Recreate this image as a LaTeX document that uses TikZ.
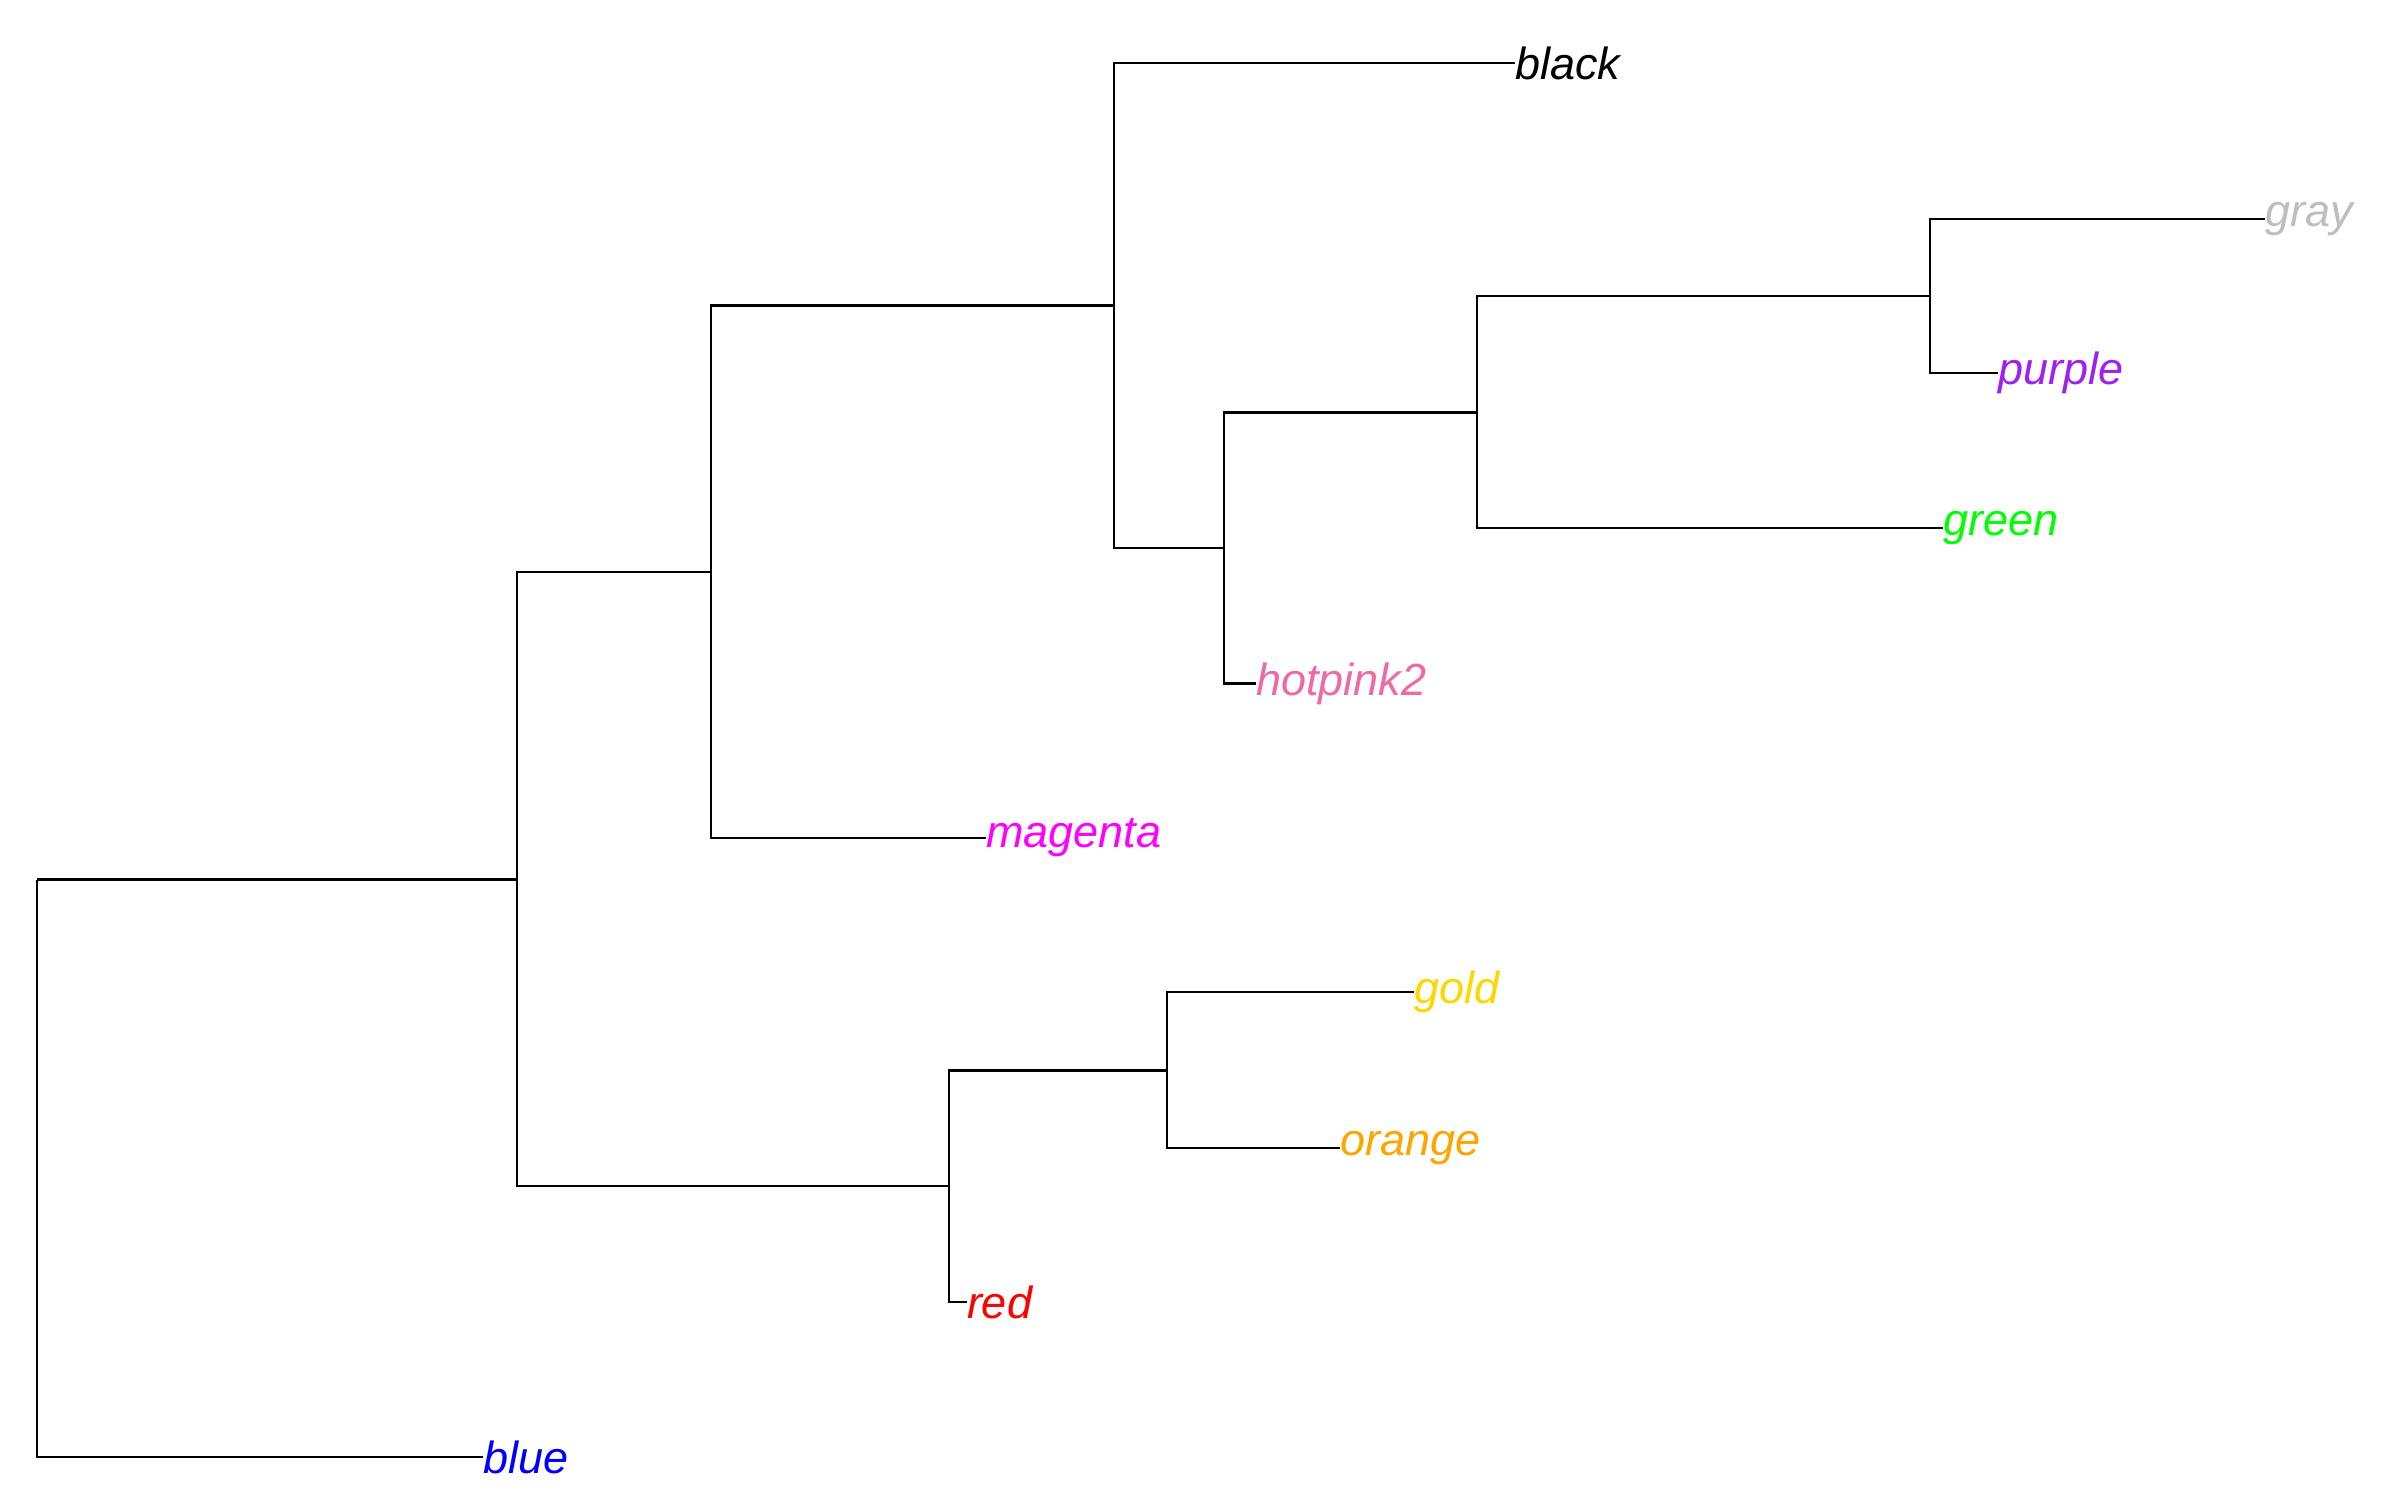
\documentclass[tikz,border=0pt]{standalone}
\usepackage{fontspec}
\setmainfont{Liberation Sans}
\definecolor{rgray}{HTML}{BEBEBE}
\definecolor{rpurple}{HTML}{A020F0}
\definecolor{rgreen}{HTML}{00FF00}
\definecolor{rhotpink}{HTML}{EE6AA7}
\definecolor{rmagenta}{HTML}{FF00FF}
\definecolor{rgold}{HTML}{FFD700}
\definecolor{rorange}{HTML}{FFA500}
\definecolor{rred}{HTML}{FF0000}
\definecolor{rblue}{HTML}{0000FF}
\begin{document}
\begin{tikzpicture}[x=0.5bp,y=-0.5bp,
  branch/.style={line width=1.2bp,draw=black,line join=miter},
  leaflab/.style={anchor=west,inner sep=0pt,outer sep=0pt,
    font=\fontsize{22.58pt}{27pt}\selectfont\itshape}]
\useasboundingbox (0,0) rectangle (2395,1512);
% internal nodes
\coordinate (root) at (36.7,879.5);
\coordinate (nA) at (517,879.5);
\coordinate (nB) at (711,571.7);
\coordinate (nC) at (1114,305.5);
\coordinate (nD) at (1224,548);
\coordinate (nE) at (1477,412.5);
\coordinate (nF) at (1930,296);
\coordinate (nG) at (949,1186);
\coordinate (nH) at (1167,1070.5);
% leaf labels
\node[leaflab,text=black] (lblack) at (1515,63) {black};
\node[leaflab,text=rgray] (lgray) at (2265,219) {gray};
\node[leaflab,text=rpurple] (lpurple) at (1998,373) {purple};
\node[leaflab,text=rgreen] (lgreen) at (1943,528) {green};
\node[leaflab,text=rhotpink] (lhotpink) at (1256,683.5) {hotpink2};
\node[leaflab,text=rmagenta] (lmagenta) at (986,838) {magenta};
\node[leaflab,text=rgold] (lgold) at (1414,992) {gold};
\node[leaflab,text=rorange] (lorange) at (1340,1148) {orange};
\node[leaflab,text=rred] (lred) at (967,1302) {red};
\node[leaflab,text=rblue] (lblue) at (483,1457) {blue};
% branches
\draw[branch] (root) |- (nA);
\draw[branch] (root) |- (lblue.west);
\draw[branch] (nA) |- (nB);
\draw[branch] (nA) |- (nG);
\draw[branch] (nB) |- (nC);
\draw[branch] (nB) |- (lmagenta.west);
\draw[branch] (nC) |- (lblack.west);
\draw[branch] (nC) |- (nD);
\draw[branch] (nD) |- (nE);
\draw[branch] (nD) |- (lhotpink.west);
\draw[branch] (nE) |- (nF);
\draw[branch] (nE) |- (lgreen.west);
\draw[branch] (nF) |- (lgray.west);
\draw[branch] (nF) |- (lpurple.west);
\draw[branch] (nG) |- (nH);
\draw[branch] (nG) |- (lred.west);
\draw[branch] (nH) |- (lgold.west);
\draw[branch] (nH) |- (lorange.west);
\end{tikzpicture}
\end{document}
